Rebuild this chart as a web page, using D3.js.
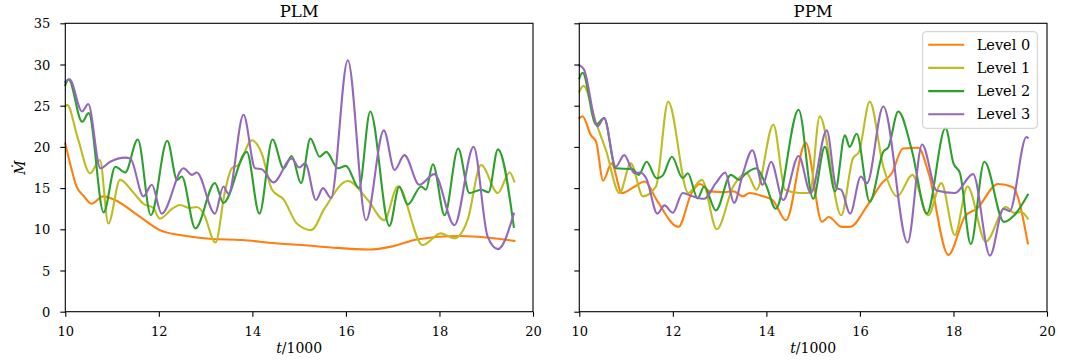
<!DOCTYPE html>
<html>
  <head>
    <script src='https://d3js.org/d3.v7.min.js'></script>
    <style>
      body { margin: 0; background: white; }
      text { font-family: 'DejaVu Serif', serif; fill: black; }
      .tick text { font-size: 13px; }
    </style>
  </head>
  <body>
    <svg id="chart" width=1065 height=364></svg>
  <script>

    // ---- data: [t/1000, Mdot] ----
    var panels = ["PLM", "PPM"];
    var levels = ["Level 0", "Level 1", "Level 2", "Level 3"];
    var colors = ["#ff7f0e", "#bcbd22", "#2ca02c", "#9467bd"];
    var xTicks = [10, 12, 14, 16, 18, 20];
    var yTicks = [0, 5, 10, 15, 20, 25, 30, 35];

    var plmLevel0 = [[10,20.4],[10.12,17.6],[10.24,15.2],[10.4,14.0],[10.56,13.1],[10.81,14.0],[11.06,13.55],[11.6,11.5],
      [12.02,9.9],[12.45,9.3],[13.09,8.85],[13.78,8.7],[14.49,8.3],[15.06,8.1],[15.68,7.8],[16.5,7.55],[16.97,7.9],
      [17.54,8.8],[18.39,9.18],[18.82,9.1],[19.6,8.6]];
    var plmLevel1 = [[10,24.9],[10.04,25.1],[10.27,21.0],[10.53,16.8],[10.74,18.4],[10.92,10.7],[11.17,16.0],[11.45,14.5],
      [11.67,13.1],[11.88,12.6],[12.02,11.3],[12.31,12.6],[12.45,12.95],[12.66,12.6],[12.81,12.7],[12.95,12.0],[13.21,8.4],
      [13.42,14.8],[13.56,17.4],[13.7,17.8],[13.99,20.8],[14.2,19.2],[14.42,14.8],[14.67,13.6],[14.95,10.7],[15.26,9.9],
      [15.54,12.5],[16.04,15.86],[16.47,13.55],[16.82,11.1],[17.11,15.2],[17.64,8.1],[18.03,9.5],[18.32,8.9],[18.6,11.1],
      [18.89,17.8],[19.25,14.4],[19.5,16.9],[19.6,15.8]];
    var plmLevel2 = [[10,27.5],[10.07,28.2],[10.36,23.05],[10.5,24.1],[10.82,12.05],[11.07,17.6],[11.28,16.9],[11.55,20.9],
      [11.83,11.7],[12.18,20.75],[12.39,16.0],[12.49,16.4],[12.78,10.1],[13.2,15.6],[13.38,13.2],[13.88,19.4],[14.15,11.9],
      [14.43,20.9],[14.67,17.4],[14.84,18.9],[15.04,15.6],[15.24,21.0],[15.44,18.8],[15.58,19.4],[15.83,17.4],[16.0,17.7],
      [16.28,15.0],[16.52,24.3],[16.93,10.4],[17.14,15.2],[17.32,13.0],[17.61,15.2],[17.71,14.8],[17.86,17.9],[18.11,11.7],
      [18.4,19.8],[18.64,14.4],[18.89,14.8],[19.05,14.5],[19.25,19.7],[19.59,10.3]];
    var plmLevel3 = [[10,27.9],[10.09,28.2],[10.36,24.3],[10.49,25.2],[10.75,17.4],[10.96,18.2],[11.28,18.7],[11.39,18.6],
      [11.67,14.0],[11.85,15.4],[12.06,11.9],[12.53,17.4],[12.71,16.6],[12.81,16.9],[13.2,11.9],[13.38,15.2],[13.49,14.3],
      [13.81,23.9],[14.06,17.4],[14.2,17.3],[14.45,15.7],[14.84,18.6],[15.0,17.5],[15.13,18.0],[15.36,13.55],[15.51,15.0],
      [15.68,13.8],[16.04,30.5],[16.43,11.1],[16.81,22.0],[17.04,17.2],[17.25,19.0],[17.57,15.4],[17.89,16.7],[18.32,10.5],
      [18.73,20.0],[19.03,9.1],[19.25,7.6],[19.59,11.9]];

    var ppmLevel0 = [[10,23.5],[10.07,23.7],[10.25,21.4],[10.36,20.6],[10.51,15.9],[10.69,18.0],[10.91,14.4],[11.16,15.1],
      [11.4,15.8],[11.65,13.6],[12.12,10.3],[12.4,14.4],[12.58,15.5],[12.8,14.6],[13.09,14.5],[13.3,14.6],[13.5,14.0],
      [13.64,14.4],[13.93,14.0],[14.14,13.5],[14.42,11.1],[14.84,20.5],[15.19,10.9],[15.33,11.5],[15.61,10.3],[15.79,10.3],
      [16.15,12.8],[16.47,15.6],[16.68,16.8],[16.92,19.8],[17.25,19.9],[17.47,16.8],[17.89,6.9],[18.25,11.6],[18.5,12.5],
      [18.95,15.5],[19.27,15.1],[19.59,8.3]];
    var ppmLevel1 = [[10,26.7],[10.09,27.4],[10.36,22.9],[10.57,19.6],[10.86,14.4],[11.1,18.0],[11.36,14.0],[11.64,15.2],
      [11.9,25.5],[12.33,14.4],[12.62,16.0],[12.94,10.0],[13.29,15.2],[13.58,16.8],[13.79,14.8],[14.15,22.7],[14.4,14.8],
      [14.71,14.4],[14.93,14.4],[15.14,23.7],[15.6,11.7],[15.85,18.6],[15.98,19.4],[16.21,25.5],[16.5,17.6],[16.8,14.0],
      [17.12,16.6],[17.46,11.7],[17.74,15.6],[18.03,9.3],[18.3,15.2],[18.69,8.5],[19.12,12.7],[19.3,12.0],[19.45,12.1],
      [19.59,11.3]];
    var ppmLevel2 = [[10,28.3],[10.07,29.0],[10.36,22.7],[10.53,23.5],[10.78,17.4],[11.14,17.3],[11.27,16.6],[11.44,18.2],
      [11.65,16.2],[11.78,16.5],[11.98,18.8],[12.21,16.2],[12.32,16.8],[12.53,13.75],[12.67,15.2],[12.92,12.3],[13.24,16.6],
      [13.42,16.0],[13.53,16.6],[13.78,17.4],[13.99,15.4],[14.2,12.5],[14.69,24.5],[15.0,13.7],[15.25,20.0],[15.47,14.6],
      [15.68,21.4],[15.78,20.0],[15.93,21.6],[16.21,13.35],[16.5,19.4],[16.61,20.0],[16.82,24.3],[17.11,19.6],[17.43,11.9],
      [17.83,22.3],[18.0,18.0],[18.14,16.8],[18.37,8.2],[18.66,18.2],[19.08,10.9],[19.3,11.7],[19.59,14.2]];
    var ppmLevel3 = [[10,29.9],[10.1,29.4],[10.39,22.5],[10.53,23.5],[10.78,17.6],[10.96,19.0],[11.18,16.8],[11.3,16.9],
      [11.43,16.2],[11.67,11.9],[11.82,12.9],[12.0,12.0],[12.21,14.4],[12.42,14.0],[12.67,13.7],[12.92,15.6],[13.12,16.9],
      [13.31,13.2],[13.5,16.8],[13.7,19.6],[13.92,15.4],[14.1,18.2],[14.36,13.55],[14.69,18.9],[14.95,14.4],[15.29,22.0],
      [15.5,15.0],[15.6,14.8],[15.79,11.9],[16.02,16.4],[16.15,15.6],[16.5,24.9],[17.02,8.4],[17.33,20.3],[17.64,14.7],
      [18.03,14.4],[18.42,16.7],[18.78,6.8],[19.07,12.5],[19.2,12.2],[19.56,21.2],[19.59,21.1]];

    var series = [
      [plmLevel0, plmLevel1, plmLevel2, plmLevel3],
      [ppmLevel0, ppmLevel1, ppmLevel2, ppmLevel3]
    ];

    // ---- layout ----
    var svg = d3.select("#chart");
    var panelLeft = [65.3, 579.3];
    var pw = 467.7, plotTop = 23.3, plotBottom = 311.7;

    var y = d3.scaleLinear().domain([0, 35]).range([plotBottom, plotTop]);

    panels.forEach(function(name, p) {
      var x = d3.scaleLinear().domain([10, 20]).range([panelLeft[p], panelLeft[p] + pw]);
      var g = svg.append("g");

      var line = d3.line()
        .x(function(d) { return x(d[0]); })
        .y(function(d) { return y(d[1]); })
        .curve(d3.curveMonotoneX);

      g.selectAll("path.series")
        .data(series[p])
        .enter().append("path")
        .attr("class", "series")
        .attr("d", line)
        .attr("fill", "none")
        .attr("stroke", function(d, i) { return colors[i]; })
        .attr("stroke-width", 2.1)
        .attr("stroke-linejoin", "round")
        .attr("stroke-linecap", "square");

      var xAxis = d3.axisBottom(x).tickValues(xTicks).tickSizeInner(5).tickSizeOuter(0).tickPadding(10);
      var yAxis = d3.axisLeft(y).tickValues(yTicks).tickSizeInner(5).tickSizeOuter(0).tickPadding(10);
      if (p == 1) yAxis.tickFormat("");

      var gx = g.append("g").attr("transform", "translate(0," + plotBottom + ")").call(xAxis);
      var gy = g.append("g").attr("transform", "translate(" + panelLeft[p] + ",0)").call(yAxis);
      gx.select(".domain").remove();
      gy.select(".domain").remove();
      gx.selectAll(".tick line").attr("stroke-width", 1.1);
      gy.selectAll(".tick line").attr("stroke-width", 1.1);
      gx.selectAll(".tick text").attr("font-family", "DejaVu Serif").attr("font-size", 13);
      gy.selectAll(".tick text").attr("font-family", "DejaVu Serif").attr("font-size", 13).attr("dy", "0.36em");

      g.append("rect")
        .attr("x", panelLeft[p]).attr("y", plotTop)
        .attr("width", pw).attr("height", plotBottom - plotTop)
        .attr("fill", "none").attr("stroke", "black").attr("stroke-width", 1.1);

      g.append("text")
        .attr("x", panelLeft[p] + pw / 2).attr("y", 17)
        .attr("text-anchor", "middle")
        .style("font-size", "16.5px")
        .text(name);

      var xl = g.append("text")
        .attr("x", panelLeft[p] + pw / 2).attr("y", 353)
        .attr("text-anchor", "middle")
        .style("font-size", "14px");
      xl.append("tspan").style("font-style", "italic").text("t");
      xl.append("tspan").text("/1000");
    });

    svg.append("text")
      .attr("transform", "translate(25," + ((plotTop + plotBottom) / 2) + ") rotate(-90)")
      .attr("text-anchor", "middle")
      .style("font-size", "14px")
      .style("font-style", "italic")
      .text("\u1E40");

    // ---- legend ----
    var lg = svg.append("g").attr("transform", "translate(922.7,31.7)");
    lg.append("rect")
      .attr("width", 114.6).attr("height", 96.6).attr("rx", 3)
      .attr("fill", "white").attr("fill-opacity", 0.8)
      .attr("stroke", "#cccccc").attr("stroke-width", 1);
    levels.forEach(function(name, i) {
      var yy = 13 + i * 23.2;
      lg.append("line")
        .attr("x1", 5.5).attr("x2", 41.5).attr("y1", yy).attr("y2", yy)
        .attr("stroke", colors[i]).attr("stroke-width", 2.1);
      lg.append("text")
        .attr("x", 54).attr("y", yy + 5)
        .style("font-size", "14.5px")
        .text(name);
    });

  </script>
  </body>
</html>
